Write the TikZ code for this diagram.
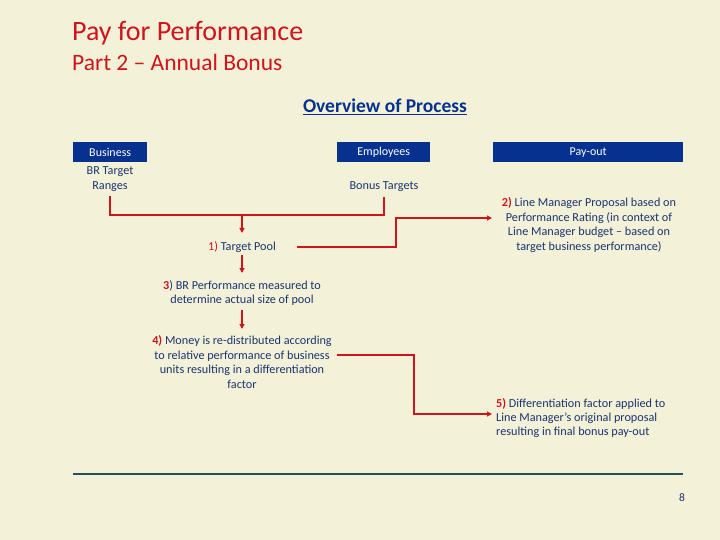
\documentclass[tikz,border=0pt]{standalone}
\usepackage{fontspec}
\setmainfont{Carlito}
\usetikzlibrary{arrows.meta}
\definecolor{bgc}{HTML}{F4F1D9}
\definecolor{navy}{HTML}{06318F}
\definecolor{txt}{HTML}{1A3570}
\definecolor{redc}{HTML}{D0141B}
\definecolor{rule}{HTML}{24505E}
\begin{document}
\begin{tikzpicture}[x=1pt,y=-1pt,
  hdr/.style={fill=navy,text=white,font=\fontsize{12}{13}\selectfont,inner sep=0pt,anchor=north west},
  body/.style={text=txt,font=\fontsize{12.2}{14.4}\selectfont,align=center,inner sep=0pt},
  conn/.style={draw=redc,line width=1.4pt},
  arr/.style={conn,-{Triangle[length=5pt,width=5pt]}}]
\fill[bgc] (0,0) rectangle (720,540);
\useasboundingbox (0,0) rectangle (720,540);
\node[text=redc,font=\fontsize{28}{32}\selectfont,anchor=base west,inner sep=0pt] (t1) at (72,41) {Pay for Performance};
\node[text=redc,font=\fontsize{23.5}{27}\selectfont,anchor=base west,inner sep=0pt] (t2) at (72,71) {Part 2 -- Annual Bonus};
\node[text=navy,font=\bfseries\fontsize{19.5}{22}\selectfont,anchor=base,inner sep=0pt] (ov) at (385,113) {\underline{Overview of Process}};
% header boxes
\node[hdr,minimum width=74,minimum height=20] (bus) at (73,142) {Business};
\node[hdr,minimum width=93,minimum height=20] (emp) at (337,142) {Employees};
\node[hdr,minimum width=190,minimum height=20] (pay) at (493,142) {Pay-out};
% texts
\node[body] (brt) at (110,179) {BR Target\\Ranges};
\node[body] (bt) at (384,187) {Bonus Targets};
\node[body] (s1) at (242,247) {\textcolor{redc}{1)} Target Pool};
\node[body] (s2) at (589,225) {\textcolor{redc}{\bfseries 2)} Line Manager Proposal based on\\Performance Rating (in context of\\Line Manager budget -- based on\\target business performance)};
\node[body] (s3) at (242,293) {\textcolor{redc}{\bfseries 3}) BR Performance measured to\\determine actual size of pool};
\node[body] (s4) at (242,362) {\textcolor{redc}{\bfseries 4)} Money is re-distributed according\\to relative performance of business\\units resulting in a differentiation\\factor};
\node[body,align=left,anchor=west] (s5) at (496,418) {\textcolor{redc}{\bfseries 5)} Differentiation factor applied to\\Line Manager's original proposal\\resulting in final bonus pay-out};
% connector points
\coordinate (a0) at (110,196);
\coordinate (b0) at (384,197);
\coordinate (j) at (242,215);
\coordinate (p1) at (297,247);
\coordinate (e2) at (492,218);
\coordinate (p4) at (337,355);
\coordinate (e5) at (492,414);
\draw[conn] (a0) -- (a0 |- j) -- (b0 |- j) -- (b0);
\draw[arr] (j) -- (242,233);
\draw[arr] (p1) -- (396,247) -- (396,218) -- (e2);
\draw[arr] (242,255) -- (242,273);
\draw[arr] (242,310) -- (242,329);
\draw[arr] (p4) -- (414,355) -- (414,414) -- (e5);
% footer
\draw[rule,line width=1.8pt] (73,474) coordinate (r1) -- (683,474) coordinate (r2);
\node[text=txt,font=\fontsize{11.5}{13}\selectfont,anchor=base,inner sep=0pt] (pg) at (682,501) {8};
\end{tikzpicture}
\end{document}
